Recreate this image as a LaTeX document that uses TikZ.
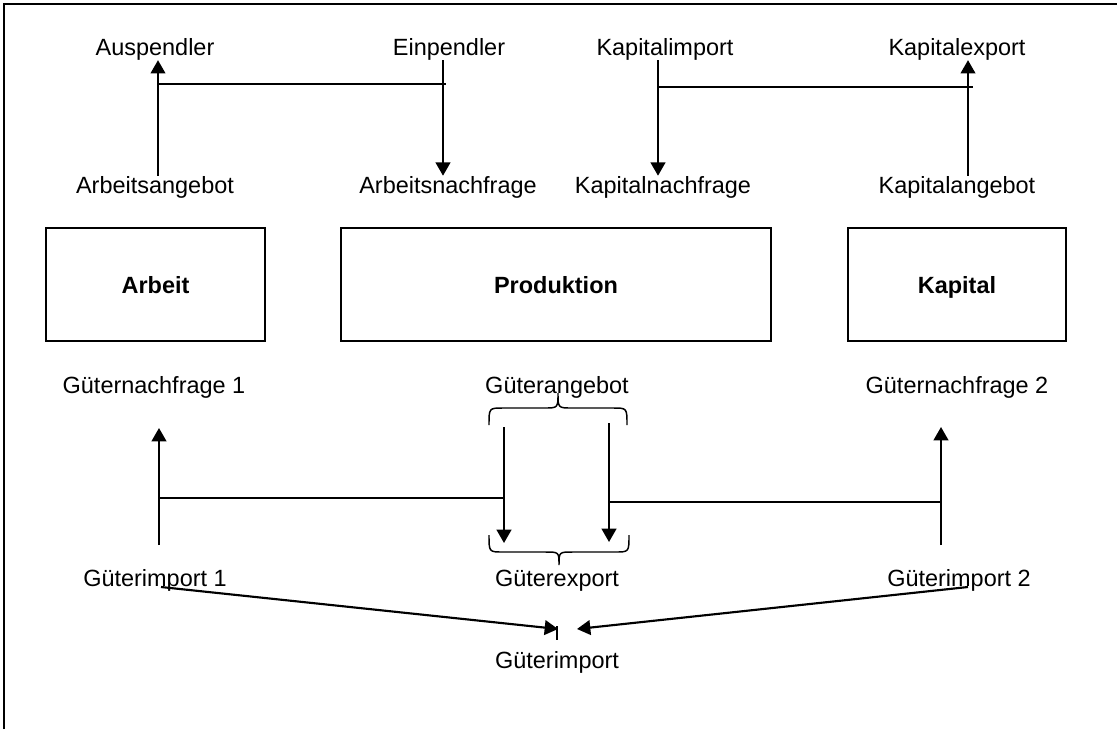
\documentclass[tikz,border=0pt]{standalone}
\usepackage{fontspec}
\setmainfont{Liberation Sans}
\usetikzlibrary{arrows.meta}
\tikzset{
    txt/.style={font=\fontsize{17.6}{21}\selectfont, inner sep=0pt, anchor=base},
    kasten/.style={draw, line width=1.5pt, minimum height=85pt, text height=15pt, text depth=1.5pt,
        font=\fontsize{17.6}{21}\selectfont\bfseries},
    pfeil/.style={line width=1.6pt, -{Triangle[length=10pt,width=11pt]}},
    linie/.style={line width=1pt},
    klammer/.style={line width=1.1pt}
}
\begin{document}
\begin{tikzpicture}[x=0.75pt, y=-0.75pt]
        \useasboundingbox (0,0) rectangle (1117,729);

        % Draw the frame
        \draw[line width=2pt] (4,729) -- (4,4) -- (1117,4);

        % Draw the three boxes
        \node[kasten, minimum width=164pt] (arbeit) at (155.5,284.5) {Arbeit};
        \node[kasten, minimum width=322.5pt] (prod) at (556,284.5) {Produktion};
        \node[kasten, minimum width=163.5pt] (kapital) at (957,284.5) {Kapital};

        % Draw the labels above the boxes
        \node[txt] (ausp) at (155,55) {Auspendler};
        \node[txt] (einp) at (449,55) {Einpendler};
        \node[txt] (kimp) at (665,55) {Kapitalimport};
        \node[txt] (kexp) at (957,55) {Kapitalexport};
        \node[txt] (aang) at (155,193) {Arbeitsangebot};
        \node[txt] (anach) at (448,193) {Arbeitsnachfrage};
        \node[txt] (knach) at (663,193) {Kapitalnachfrage};
        \node[txt] (kang) at (957,193) {Kapitalangebot};

        % Draw the labels below the boxes
        \node[txt] (gn1) at (154,393) {Güternachfrage 1};
        \node[txt] (gang) at (557,393) {Güterangebot};
        \node[txt] (gn2) at (957,393) {Güternachfrage 2};
        \node[txt] (gimp1) at (155,586) {Güterimport 1};
        \node[txt] (gexp) at (557,586) {Güterexport};
        \node[txt] (gimp2) at (959,586) {Güterimport 2};
        \node[txt] (gimp) at (557,668) {Güterimport};

        % Draw the labour market arrows
        \draw[pfeil] (aang.north -| 158,0) -- (ausp.south -| 158,0);
        \draw[pfeil] (einp.south -| 443,0) -- (anach.north -| 443,0);
        \coordinate (a1) at (158,84);
        \coordinate (a2) at (446,84);
        \draw[linie] (a1) -- (a2);

        % Draw the capital market arrows
        \draw[pfeil] (kimp.south -| 658,0) -- (knach.north -| 658,0);
        \draw[pfeil] (kang.north -| 968,0) -- (kexp.south -| 968,0);
        \coordinate (k1) at (658,87);
        \coordinate (k2) at (973,87);
        \draw[linie] (k1) -- (k2);

        % Draw the goods market arrows
        \coordinate (g1u) at (159,545);
        \coordinate (g1o) at (159,428);
        \coordinate (g2o) at (504,427);
        \coordinate (g2u) at (504,543);
        \coordinate (g3o) at (609,423);
        \coordinate (g3u) at (609,542);
        \coordinate (g4u) at (941,545);
        \coordinate (g4o) at (941,427);
        \draw[pfeil] (g1u) -- (g1o);
        \draw[pfeil] (g2o) -- (g2u);
        \draw[pfeil] (g3o) -- (g3u);
        \draw[pfeil] (g4u) -- (g4o);
        \draw[linie] (g1u |- 0,498) -- (g2o |- 0,498);
        \draw[linie] (g3o |- 0,502) -- (g4u |- 0,502);

        % Draw the braces
        \draw[klammer] (489,425) .. controls (489,408) .. (503,408) -- (544,408)
            .. controls (558,408) .. (558,393) .. controls (558,408) .. (572,408)
            -- (613,408) .. controls (627,408) .. (627,425);
        \draw[klammer] (489,535) .. controls (489,552) .. (503,552) -- (545,552)
            .. controls (559,552) .. (559,565) .. controls (559,552) .. (573,552)
            -- (615,552) .. controls (629,552) .. (629,535);

        % Draw the import arrows
        \coordinate (i1) at (161,587);
        \coordinate (i2) at (968,587);
        \coordinate (ie) at (558,629);
        \draw[pfeil] (i1) -- (ie);
        \draw[pfeil] (i2) -- (577,629);
        \draw[line width=1.5pt] (557,626) -- (557,640);
    \end{tikzpicture}
\end{document}
